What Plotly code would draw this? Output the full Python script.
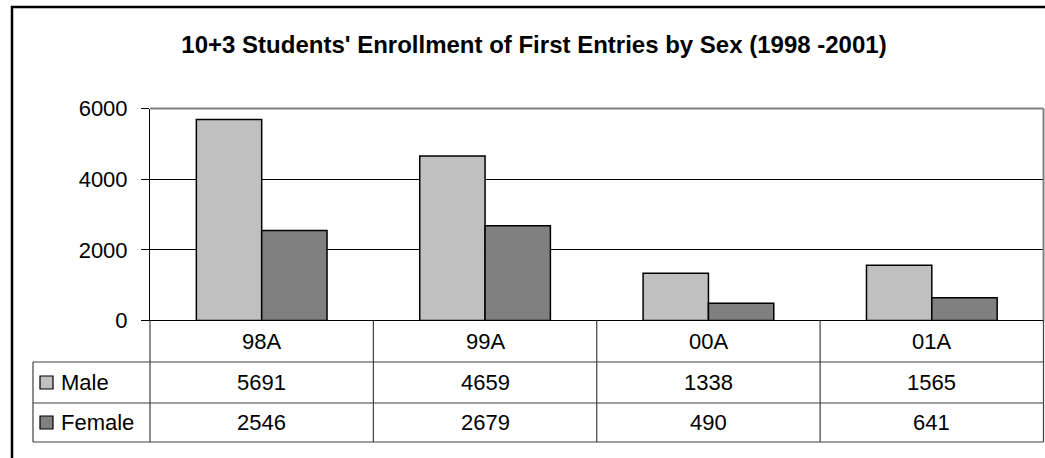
import plotly.graph_objects as go

categories = ["98A", "99A", "00A", "01A"]
male = [5691, 4659, 1338, 1565]
female = [2546, 2679, 490, 641]
series_names = ["Male", "Female"]
y_ticks = [0, 2000, 4000, 6000]

W, H = 1045, 458
MALE_COLOR = "#c0c0c0"
FEMALE_COLOR = "#808080"
FONT = "Liberation Sans, Arial, sans-serif"
FS = 22

# pixel geometry
PX_L, PX_R = 150, 1043.5
PY_T, PY_B = 108.5, 320.5
TABLE_L = 33
ROW_Y = [320.5, 362, 403, 442]


def px(x):
    return x / W


def py(y):
    return 1 - y / H


fig = go.Figure()
fig.add_trace(go.Bar(x=categories, y=male, name=series_names[0],
                     marker=dict(color=MALE_COLOR, line=dict(color="black", width=1.5))))
fig.add_trace(go.Bar(x=categories, y=female, name=series_names[1],
                     marker=dict(color=FEMALE_COLOR, line=dict(color="black", width=1.5))))

fig.update_layout(
    template="none",
    width=W, height=H,
    margin=dict(l=0, r=0, t=0, b=0, pad=0),
    paper_bgcolor="white", plot_bgcolor="white",
    showlegend=False,
    barmode="group", bargap=0.415, bargroupgap=0,
    font=dict(family=FONT, size=FS, color="black"),
    xaxis=dict(domain=[px(PX_L), px(PX_R)], showticklabels=False, ticks="",
               showgrid=False, zeroline=False, showline=False, fixedrange=True,
               automargin=False),
    yaxis=dict(domain=[py(PY_B), py(PY_T)], range=[0, 6000], tickvals=y_ticks,
               ticks="outside", ticklen=8, tickcolor="black", tickwidth=1,
               showgrid=True, gridcolor="black", gridwidth=1,
               zeroline=False, showline=True, linecolor="black", linewidth=1,
               ticklabelstandoff=9, tickfont=dict(size=FS), automargin=False,
               fixedrange=True),
    title=dict(text="<b>10+3 Students' Enrollment of First Entries by Sex (1998 -2001)</b>",
               x=px(534), xanchor="center", y=py(45), yanchor="middle",
               xref="paper", yref="paper", automargin=False,
               font=dict(size=24, family=FONT)),
)

shapes = []
# outer frame
shapes.append(dict(type="rect", xref="paper", yref="paper", x0=px(12), x1=px(1060),
                   y0=py(475), y1=py(7), line=dict(color="black", width=2.5)))
# plot area top and right border (gray)
shapes.append(dict(type="line", xref="paper", yref="paper", x0=px(PX_L), x1=px(PX_R),
                   y0=py(PY_T), y1=py(PY_T), line=dict(color="#808080", width=2)))
shapes.append(dict(type="line", xref="paper", yref="paper", x0=px(PX_R), x1=px(PX_R),
                   y0=py(PY_T), y1=py(ROW_Y[0]), line=dict(color="#808080", width=2)))
# table horizontal lines
shapes.append(dict(type="line", xref="paper", yref="paper", x0=px(PX_L), x1=px(PX_R),
                   y0=py(ROW_Y[0]), y1=py(ROW_Y[0]), line=dict(color="black", width=1.2)))
for yy in ROW_Y[1:]:
    shapes.append(dict(type="line", xref="paper", yref="paper", x0=px(TABLE_L), x1=px(PX_R),
                       y0=py(yy), y1=py(yy), line=dict(color="#404040", width=1.2)))
# table vertical lines
colw = (PX_R - PX_L) / len(categories)
for i in range(len(categories) + 1):
    xx = PX_L + i * colw
    shapes.append(dict(type="line", xref="paper", yref="paper", x0=px(xx), x1=px(xx),
                       y0=py(ROW_Y[0]), y1=py(ROW_Y[-1]), line=dict(color="#404040", width=1.2)))
shapes.append(dict(type="line", xref="paper", yref="paper", x0=px(TABLE_L), x1=px(TABLE_L),
                   y0=py(ROW_Y[1]), y1=py(ROW_Y[-1]), line=dict(color="#404040", width=1.2)))

annotations = []
# category header row
for c in categories:
    annotations.append(dict(x=c, xref="x", y=py((ROW_Y[0] + ROW_Y[1]) / 2), yref="paper",
                            text=c, showarrow=False, xanchor="center", yanchor="middle",
                            font=dict(size=FS)))
# data rows
for r, (name, vals, col) in enumerate(zip(series_names, [male, female], [MALE_COLOR, FEMALE_COLOR])):
    yc = (ROW_Y[r + 1] + ROW_Y[r + 2]) / 2
    for c, v in zip(categories, vals):
        annotations.append(dict(x=c, xref="x", y=py(yc), yref="paper", text=str(v),
                                showarrow=False, xanchor="center", yanchor="middle",
                                font=dict(size=FS)))
    # legend key
    shapes.append(dict(type="rect", xref="paper", yref="paper", x0=px(40), x1=px(53),
                       y0=py(yc + 6.5), y1=py(yc - 6.5), fillcolor=col,
                       line=dict(color="black", width=1.2)))
    annotations.append(dict(x=px(59), xref="paper", y=py(yc), yref="paper", text=name,
                            showarrow=False, xanchor="left", yanchor="middle",
                            font=dict(size=FS)))

fig.update_layout(shapes=shapes, annotations=annotations)
fig.write_html("out.html", config={"displayModeBar": False},
               post_script="document.body.style.margin='0';document.body.style.overflow='hidden';")
